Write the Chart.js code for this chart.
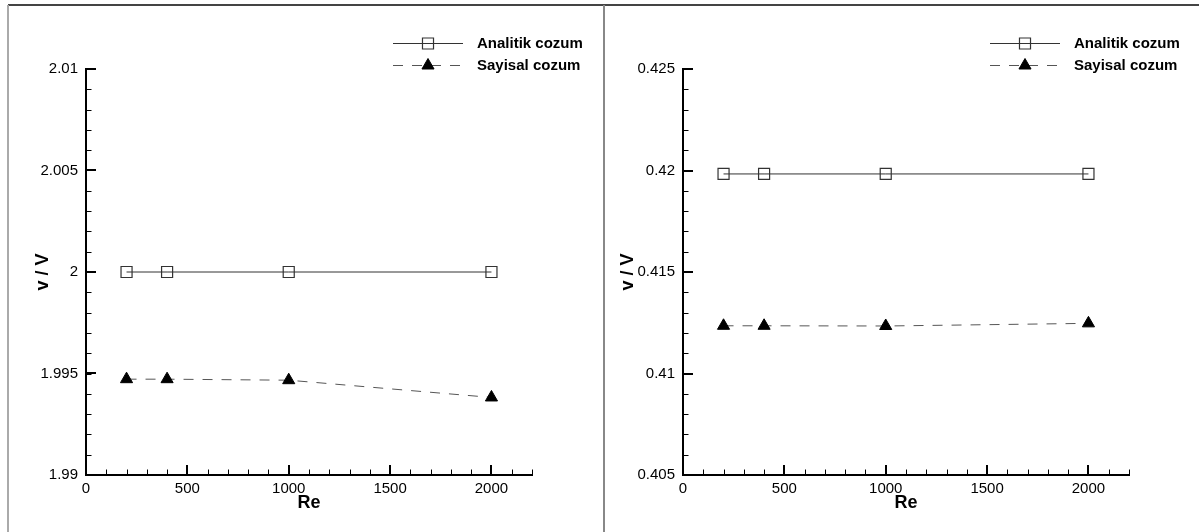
<!DOCTYPE html>
<html><head><meta charset="utf-8">
<script src="https://cdn.jsdelivr.net/npm/chart.js@4/dist/chart.umd.min.js"></script>
<style>
html,body{margin:0;padding:0;background:#fff;}
body{width:1199px;height:532px;position:relative;overflow:hidden;}
.ln{position:absolute;}
canvas{position:absolute;top:0;}
</style></head><body>
<div class="ln" style="left:8px;top:4px;width:1191px;height:2px;background:#444"></div>
<div class="ln" style="left:7px;top:5px;width:2px;height:527px;background:#aaa"></div>
<div class="ln" style="left:603px;top:5px;width:2px;height:527px;background:#888"></div>
<canvas id="c1" width="600" height="532" style="left:0px"></canvas>
<canvas id="c2" width="600" height="532" style="left:597px"></canvas>
<script>
// ---- data ----
const reValues = [200, 400, 1000, 2000];
const analitikLeft = [2, 2, 2, 2];
const sayisalLeft = [1.99472, 1.99472, 1.99467, 1.99382];
const analitikRight = [0.41983, 0.41983, 0.41983, 0.41983];
const sayisalRight = [0.41235, 0.41235, 0.41234, 0.41247];
const seriesNames = ['Analitik cozum', 'Sayisal cozum'];
const xTicks = [0, 500, 1000, 1500, 2000];
const xTickLabels = ['0', '500', '1000', '1500', '2000'];
const yTicksLeft = [1.99, 1.995, 2, 2.005, 2.01];
const yTickLabelsLeft = ['1.99', '1.995', '2', '2.005', '2.01'];
const yTicksRight = [0.405, 0.41, 0.415, 0.42, 0.425];
const yTickLabelsRight = ['0.405', '0.41', '0.415', '0.42', '0.425'];
const xRange = [0, 2200];
const xMinorStep = 100;
const yMinorStep = 0.001;
const xTitle = 'Re';
const yTitle = 'v / V';

const FONT = '"Liberation Sans", Arial, Helvetica, sans-serif';

const axisDecor = {
  id: 'axisDecor',
  afterDatasetsDraw(chart, args, o) {
    const {ctx, chartArea: a} = chart;
    const x = chart.scales.x, y = chart.scales.y;
    const L = Math.round(a.left), B = Math.round(a.bottom), R = Math.round(a.right), T = Math.round(a.top);
    ctx.save();
    ctx.strokeStyle = '#000';
    // minor ticks
    ctx.lineWidth = 1;
    ctx.beginPath();
    const nx = Math.round((x.max - x.min) / o.xMinor);
    for (let i = 0; i <= nx; i++) {
      const px = Math.round(x.getPixelForValue(x.min + i * o.xMinor)) + 0.5;
      ctx.moveTo(px, B); ctx.lineTo(px, B - 5.5);
    }
    const ny = Math.round((y.max - y.min) / o.yMinor);
    for (let i = 0; i <= ny; i++) {
      const py = Math.round(y.getPixelForValue(y.min + i * o.yMinor)) + 0.5;
      ctx.moveTo(L, py); ctx.lineTo(L + 5.5, py);
    }
    ctx.stroke();
    // major ticks
    ctx.lineWidth = 2;
    ctx.beginPath();
    x.ticks.forEach(t => {
      const px = Math.round(x.getPixelForValue(t.value));
      ctx.moveTo(px, B); ctx.lineTo(px, B - 10);
    });
    y.ticks.forEach(t => {
      const py = Math.round(y.getPixelForValue(t.value));
      ctx.moveTo(L, py); ctx.lineTo(L + 10, py);
    });
    ctx.stroke();
    // axis lines
    ctx.beginPath();
    ctx.moveTo(L, T - 1); ctx.lineTo(L, B); ctx.lineTo(R + 1, B);
    ctx.stroke();
    // titles
    ctx.fillStyle = '#000';
    ctx.font = 'bold 18px ' + FONT;
    ctx.textAlign = 'center';
    ctx.textBaseline = 'middle';
    ctx.fillText(o.xTitle, (a.left + a.right) / 2, o.xTitleY);
    ctx.save();
    ctx.translate(o.yTitleX, (a.top + a.bottom) / 2);
    ctx.rotate(-Math.PI / 2);
    ctx.fillText(o.yTitle, 0, 0);
    ctx.restore();
    // legend
    chart.data.datasets.forEach((ds, i) => {
      const ly = o.legendY[i];
      ctx.save();
      ctx.strokeStyle = ds.borderColor;
      ctx.lineWidth = ds.borderWidth;
      ctx.setLineDash(ds.borderDash || []);
      ctx.beginPath();
      ctx.moveTo(o.legendX0, ly + 0.5); ctx.lineTo(o.legendX1, ly + 0.5);
      ctx.stroke();
      ctx.setLineDash([]);
      ctx.fillStyle = ds.pointBackgroundColor;
      ctx.strokeStyle = ds.pointBorderColor;
      ctx.lineWidth = ds.pointBorderWidth;
      Chart.helpers.drawPoint(ctx, {pointStyle: ds.pointStyle, radius: ds.pointRadius, borderWidth: ds.pointBorderWidth, rotation: 0}, (o.legendX0 + o.legendX1) / 2, ly + 0.5);
      ctx.restore();
      ctx.fillStyle = '#000';
      ctx.font = 'bold 15px ' + FONT;
      ctx.textAlign = 'left';
      ctx.textBaseline = 'middle';
      ctx.fillText(ds.label, o.legendTextX, ly + 1);
    });
    ctx.restore();
  }
};

function makeChart(id, analitik, sayisal, yTicks, yLabels, yTitleX) {
  return new Chart(document.getElementById(id), {
    type: 'line',
    data: {
      datasets: [
        {
          label: seriesNames[0],
          data: reValues.map((r, i) => ({x: r, y: analitik[i]})),
          borderColor: '#333', borderWidth: 1,
          pointStyle: 'rect', pointRadius: 7.8,
          pointBackgroundColor: 'rgba(0,0,0,0)', pointBorderColor: '#333', pointBorderWidth: 1.2,
          tension: 0, fill: false
        },
        {
          label: seriesNames[1],
          data: reValues.map((r, i) => ({x: r, y: sayisal[i]})),
          borderColor: '#555', borderWidth: 1, borderDash: [10, 9],
          pointStyle: 'triangle', pointRadius: 7,
          pointBackgroundColor: '#000', pointBorderColor: '#000', pointBorderWidth: 1,
          tension: 0, fill: false
        }
      ]
    },
    options: {
      responsive: false, animation: false, events: [],
      layout: {padding: {left: 0, top: 69, right: 68, bottom: 0}},
      scales: {
        x: {
          type: 'linear', min: xRange[0], max: xRange[1],
          afterBuildTicks: s => { s.ticks = xTicks.map(v => ({value: v})); },
          afterFit: s => { s.height = 57; },
          grid: {display: false, drawTicks: false},
          border: {display: false},
          ticks: {
            autoSkip: false, maxRotation: 0, padding: 5, color: '#000',
            font: {family: FONT, size: 15},
            callback: (v, i) => xTickLabels[i]
          }
        },
        y: {
          type: 'linear', min: yTicks[0], max: yTicks[yTicks.length - 1],
          afterBuildTicks: s => { s.ticks = yTicks.map(v => ({value: v})); },
          afterFit: s => { s.width = 86; },
          grid: {display: false, drawTicks: false},
          border: {display: false},
          ticks: {
            autoSkip: false, padding: 8, color: '#000',
            font: {family: FONT, size: 15},
            callback: (v, i) => yLabels[i]
          }
        }
      },
      plugins: {
        legend: {display: false},
        tooltip: {enabled: false},
        axisDecor: {
          xMinor: xMinorStep, yMinor: yMinorStep,
          xTitle: xTitle, yTitle: yTitle, xTitleY: 503, yTitleX: yTitleX,
          legendY: [43, 65], legendX0: 393, legendX1: 463, legendTextX: 477
        }
      }
    },
    plugins: [axisDecor]
  });
}

makeChart('c1', analitikLeft, sayisalLeft, yTicksLeft, yTickLabelsLeft, 43);
makeChart('c2', analitikRight, sayisalRight, yTicksRight, yTickLabelsRight, 31.5);
</script>
</body></html>
